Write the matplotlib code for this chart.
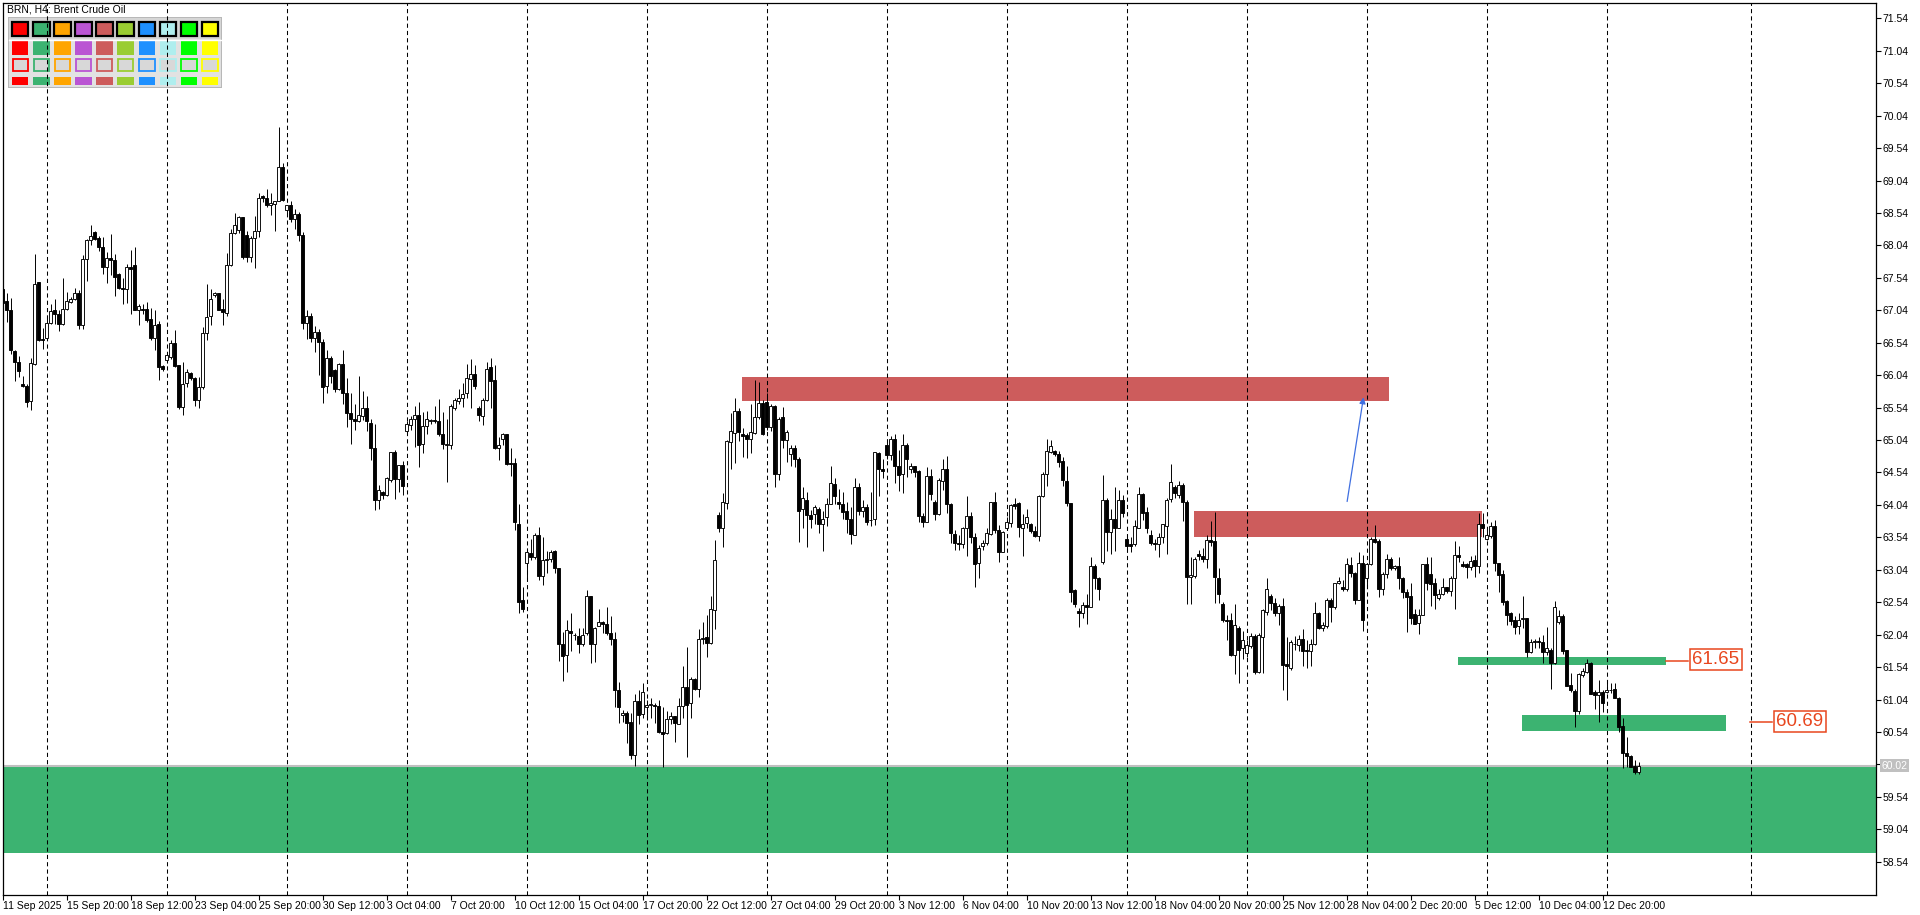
import matplotlib
matplotlib.use("Agg")
import matplotlib.pyplot as plt
from matplotlib.patches import Rectangle
import matplotlib.transforms as mtransforms
import numpy as np

plt.rcParams['font.family'] = ['Liberation Sans', 'DejaVu Sans']

title = "BRN, H4: Brent Crude Oil"

# H4 candles, 11 Sep 2025 04:00 .. 16 Dec 2025
opens = [
    67.37, 67.18, 67.05, 66.41, 66.25, 65.91, 65.88, 65.64, 66.21, 67.47,
    66.60, 66.61, 66.85, 67.04, 66.99, 66.83, 67.06, 67.17, 67.22, 67.31,
    66.82, 67.83, 68.13, 68.25, 68.15, 68.02, 67.70, 67.84, 67.82, 67.60,
    67.38, 67.36, 67.71, 67.73, 67.05, 67.06, 67.06, 66.91, 66.61, 66.83,
    66.18, 66.27, 66.32, 66.54, 66.19, 65.55, 65.92, 66.08, 65.99, 65.65,
    65.86, 66.69, 66.95, 67.28, 67.30, 67.06, 67.00, 67.73, 68.23, 68.27,
    68.47, 68.20, 67.86, 68.16, 68.26, 68.80, 68.77, 68.66, 68.68, 68.72,
    69.25, 68.59, 68.66, 68.45, 68.52, 68.20, 66.85, 66.95, 66.62, 66.70,
    66.55, 65.87, 66.30, 66.12, 65.82, 66.21, 65.76, 65.45, 65.37, 65.33,
    65.41, 65.54, 65.31, 64.91, 64.11, 64.24, 64.19, 64.42, 64.85, 64.44,
    64.65, 65.18, 65.27, 65.36, 65.43, 64.98, 65.26, 65.33, 65.34, 65.33,
    65.14, 64.97, 64.96, 65.54, 65.64, 65.68, 65.76, 65.98, 66.05, 65.53,
    65.41, 65.65, 66.16, 65.97, 64.92, 65.05, 65.13, 64.68, 64.68, 63.75,
    62.58, 63.14, 63.30, 63.23, 63.57, 62.95, 63.19, 63.21, 63.33, 63.06,
    61.89, 61.72, 62.10, 62.03, 62.02, 61.90, 62.06, 62.63, 61.89, 62.18,
    62.23, 62.21, 62.07, 61.98, 61.19, 60.80, 60.84, 60.70, 60.18, 61.01,
    60.82, 60.92, 60.96, 60.96, 60.94, 60.54, 60.52, 60.74, 60.79, 60.67,
    60.94, 61.24, 60.98, 61.35, 61.21, 61.98, 62.00, 61.91, 62.42, 63.88,
    63.68, 64.07, 65.01, 65.15, 65.49, 65.14, 65.11, 65.06, 65.15, 65.39,
    65.61, 65.62, 65.24, 65.56, 64.51, 65.39, 65.04, 64.82, 64.92, 64.74,
    63.97, 64.12, 63.88, 63.90, 63.98, 63.75, 63.86, 64.06, 64.36, 64.08,
    64.06, 63.95, 63.83, 63.57, 64.31, 63.95, 64.00, 63.80, 63.82, 64.84,
    64.59, 64.96, 64.81, 65.05, 64.64, 64.51, 64.96, 64.60, 64.64, 64.57,
    63.87, 63.77, 64.48, 64.09, 63.90, 64.41, 64.60, 64.06, 63.59, 63.46,
    63.43, 63.69, 63.87, 63.55, 63.14, 63.41, 63.46, 63.59, 64.08, 63.65,
    63.32, 63.69, 63.76, 64.05, 64.07, 63.69, 63.76, 63.74, 63.64, 63.56,
    64.18, 64.52, 64.86, 64.87, 64.83, 64.71, 64.41, 64.07, 62.73, 62.40,
    62.38, 62.50, 62.46, 63.10, 62.91, 63.16, 64.11, 63.63, 63.82, 63.69,
    64.12, 63.52, 63.44, 63.44, 63.69, 64.21, 63.93, 63.57, 63.46, 63.43,
    63.54, 63.72, 64.13, 64.31, 64.20, 64.34, 64.09, 62.93, 62.94, 63.29,
    63.26, 63.20, 63.50, 63.48, 62.92, 62.51, 62.27, 62.27, 61.73, 62.15,
    61.83, 61.75, 61.86, 62.02, 61.47, 62.01, 62.39, 62.63, 62.53, 62.38,
    62.48, 61.59, 61.52, 61.89, 61.88, 61.97, 61.80, 61.79, 61.90, 62.38,
    62.15, 62.17, 62.57, 62.46, 62.83, 62.78, 62.74, 63.11, 62.99, 62.58,
    63.14, 62.92, 63.13, 63.52, 63.48, 62.74, 62.98, 63.20, 63.06, 63.10,
    62.92, 62.69, 62.63, 62.36, 62.22, 62.34, 63.13, 62.97, 62.83, 62.60,
    62.66, 62.77, 62.72, 62.92, 63.27, 63.13, 63.13, 63.09, 63.19, 63.10,
    63.75, 63.52, 63.56, 63.71, 63.15, 62.98, 62.56, 62.38, 62.26, 62.17,
    62.28, 62.29, 61.78, 61.92, 61.94, 61.92, 61.78, 61.81, 61.61, 62.23,
    62.33, 61.80, 61.26, 61.17, 60.87, 61.42, 61.47, 61.60, 61.16, 61.11,
    61.15, 61.15, 61.18, 61.20, 61.07, 60.63, 60.21, 60.17, 60.02, 59.93,
]
highs = [
    67.40, 67.31, 67.23, 66.43, 66.33, 66.02, 65.91, 66.31, 67.90, 67.48,
    66.76, 66.93, 67.13, 67.22, 67.05, 67.53, 67.32, 67.25, 67.39, 67.35,
    67.89, 68.14, 68.35, 68.26, 68.18, 68.17, 67.94, 68.21, 67.90, 67.61,
    67.53, 67.76, 67.97, 68.01, 67.14, 67.13, 67.17, 67.08, 67.05, 66.88,
    66.19, 66.38, 66.58, 66.73, 66.19, 66.24, 66.14, 66.09, 66.01, 66.01,
    66.78, 67.44, 67.36, 67.32, 67.31, 67.22, 67.93, 68.30, 68.54, 68.50,
    68.48, 68.26, 68.19, 68.50, 68.85, 68.81, 68.91, 68.85, 68.73, 69.87,
    69.31, 68.67, 68.72, 68.60, 68.55, 68.25, 67.05, 67.00, 66.80, 66.75,
    66.60, 66.42, 66.33, 66.14, 66.22, 66.42, 65.99, 65.77, 65.60, 66.02,
    65.79, 65.72, 65.37, 65.28, 64.34, 64.25, 64.47, 64.86, 64.88, 64.65,
    64.71, 65.34, 65.41, 65.56, 65.62, 65.47, 65.48, 65.37, 65.56, 65.67,
    65.47, 65.37, 65.59, 65.69, 65.82, 65.92, 66.21, 66.29, 66.19, 65.56,
    65.69, 66.25, 66.31, 66.19, 65.08, 65.15, 65.14, 64.91, 64.77, 64.05,
    62.77, 63.37, 63.52, 63.60, 63.70, 63.55, 63.33, 63.34, 63.34, 63.06,
    62.08, 62.26, 62.37, 62.07, 62.14, 62.14, 62.73, 62.63, 62.16, 62.43,
    62.25, 62.46, 62.32, 62.08, 61.31, 60.88, 60.87, 60.84, 61.13, 61.19,
    61.30, 61.04, 61.06, 60.99, 61.03, 60.93, 60.87, 60.85, 60.79, 61.07,
    61.55, 61.85, 61.39, 61.37, 62.12, 62.24, 62.34, 62.63, 63.50, 63.93,
    64.22, 65.04, 65.46, 65.68, 65.53, 65.22, 65.15, 65.59, 65.97, 65.94,
    65.65, 65.77, 65.60, 65.58, 65.40, 65.55, 65.19, 64.96, 64.96, 64.78,
    64.32, 64.24, 63.96, 64.04, 64.01, 63.95, 64.15, 64.64, 64.46, 64.29,
    64.24, 64.08, 64.00, 64.45, 64.38, 64.11, 64.06, 64.24, 64.86, 64.86,
    64.74, 65.05, 65.10, 65.14, 64.88, 65.14, 65.00, 64.68, 64.64, 64.58,
    63.91, 64.63, 64.60, 64.12, 64.45, 64.74, 64.79, 64.07, 63.65, 63.57,
    63.70, 64.17, 63.93, 63.60, 63.42, 63.50, 63.68, 64.09, 64.24, 63.73,
    63.64, 63.85, 64.06, 64.15, 64.09, 63.90, 63.97, 63.76, 63.71, 64.19,
    64.55, 65.05, 65.04, 64.89, 64.87, 64.78, 64.64, 64.07, 62.75, 62.45,
    62.55, 62.66, 63.24, 63.13, 62.93, 64.50, 64.14, 63.98, 64.31, 64.27,
    64.19, 63.55, 63.54, 63.81, 64.32, 64.22, 64.01, 63.66, 63.52, 63.60,
    63.75, 64.15, 64.67, 64.35, 64.41, 64.38, 64.11, 63.24, 63.24, 63.34,
    63.38, 63.57, 63.79, 63.93, 63.06, 62.55, 62.35, 62.37, 62.52, 62.17,
    62.10, 61.96, 62.06, 62.05, 62.06, 62.43, 62.92, 62.67, 62.60, 62.52,
    62.60, 62.01, 61.96, 62.02, 62.04, 62.12, 61.96, 61.97, 62.55, 62.39,
    62.24, 62.60, 62.60, 62.84, 62.93, 62.88, 63.22, 63.23, 63.01, 63.32,
    63.27, 63.13, 63.54, 63.73, 63.51, 63.01, 63.29, 63.23, 63.11, 63.24,
    62.93, 62.75, 62.83, 62.44, 62.44, 63.13, 63.24, 63.24, 62.91, 62.74,
    62.91, 62.78, 62.94, 63.48, 63.40, 63.18, 63.15, 63.25, 63.27, 63.91,
    63.91, 63.66, 63.78, 63.80, 63.15, 63.03, 62.58, 62.39, 62.33, 62.37,
    62.63, 62.30, 61.98, 61.98, 62.01, 62.03, 62.16, 61.83, 62.56, 62.42,
    62.36, 61.80, 61.45, 61.20, 61.45, 61.52, 61.67, 61.62, 61.19, 61.34,
    61.19, 61.30, 61.29, 61.30, 61.08, 60.75, 60.46, 60.18, 60.11, 60.07,
]
lows = [
    67.12, 66.86, 66.37, 65.95, 66.01, 65.85, 65.55, 65.51, 66.19, 66.57,
    66.45, 66.58, 66.83, 66.83, 66.72, 66.81, 67.04, 67.15, 67.20, 66.75,
    66.75, 67.49, 68.04, 68.13, 67.96, 67.60, 67.46, 67.59, 67.26, 67.37,
    67.13, 67.15, 66.98, 67.04, 66.82, 66.99, 66.86, 66.58, 66.42, 65.97,
    66.11, 66.22, 66.29, 66.16, 65.52, 65.42, 65.85, 65.96, 65.57, 65.54,
    65.82, 66.58, 66.81, 67.24, 67.04, 66.81, 66.95, 67.72, 68.21, 68.23,
    67.83, 67.78, 67.78, 67.69, 68.17, 68.71, 68.63, 68.51, 68.26, 68.72,
    68.73, 68.52, 68.40, 68.30, 68.10, 66.75, 66.60, 66.55, 66.40, 66.04,
    65.61, 65.76, 65.92, 65.78, 65.81, 65.59, 65.24, 64.98, 65.20, 65.32,
    65.35, 65.18, 64.73, 63.96, 63.97, 64.13, 64.18, 64.39, 64.13, 64.24,
    64.19, 65.11, 65.19, 64.93, 64.63, 64.84, 65.14, 65.28, 65.30, 65.10,
    64.90, 64.40, 64.90, 65.50, 65.60, 65.55, 65.68, 65.54, 65.82, 65.34,
    65.27, 65.64, 65.54, 64.90, 64.73, 64.96, 64.65, 64.49, 63.65, 62.38,
    62.39, 62.88, 63.19, 63.21, 62.88, 62.80, 62.99, 63.16, 62.99, 61.64,
    61.33, 61.47, 61.79, 61.96, 61.75, 61.86, 62.03, 61.60, 61.62, 62.17,
    62.06, 62.03, 61.88, 60.92, 60.68, 60.70, 60.37, 60.13, 60.01, 60.67,
    60.75, 60.76, 60.75, 60.68, 60.53, 60.00, 60.51, 60.66, 60.39, 60.66,
    60.75, 60.15, 60.76, 61.19, 61.08, 61.90, 61.69, 61.89, 62.12, 63.63,
    63.39, 63.98, 64.60, 64.69, 65.03, 64.78, 64.77, 64.84, 65.13, 65.36,
    65.11, 65.19, 65.18, 64.31, 64.43, 64.92, 64.70, 64.64, 64.63, 63.47,
    63.69, 63.39, 63.69, 63.75, 63.60, 63.33, 63.71, 64.05, 64.06, 63.98,
    63.83, 63.61, 63.43, 63.57, 63.88, 63.86, 63.73, 63.71, 63.73, 64.18,
    64.45, 64.74, 64.73, 64.37, 64.25, 64.23, 64.47, 64.53, 64.47, 63.78,
    63.70, 63.77, 64.11, 63.80, 63.88, 64.27, 63.91, 63.46, 63.34, 63.35,
    63.37, 63.25, 63.46, 62.77, 62.92, 63.34, 63.42, 63.57, 63.60, 63.16,
    63.32, 63.65, 63.70, 63.98, 63.54, 63.25, 63.69, 63.60, 63.55, 63.49,
    64.16, 64.33, 64.84, 64.79, 64.63, 64.33, 64.02, 62.55, 62.46, 62.16,
    62.29, 62.20, 62.46, 62.75, 62.57, 63.13, 63.33, 63.29, 63.33, 63.69,
    63.86, 63.32, 63.32, 63.40, 63.68, 63.81, 63.61, 63.42, 63.35, 63.23,
    63.46, 63.28, 64.09, 64.14, 64.14, 63.79, 62.51, 62.52, 62.91, 63.19,
    63.16, 63.07, 63.40, 62.53, 62.53, 62.24, 61.96, 61.71, 61.43, 61.30,
    61.67, 61.69, 61.84, 61.43, 61.45, 61.45, 62.34, 62.42, 62.32, 62.19,
    61.18, 61.03, 61.50, 61.80, 61.79, 61.55, 61.52, 61.56, 61.88, 62.12,
    62.10, 62.15, 62.24, 62.43, 62.82, 62.72, 62.72, 62.93, 62.52, 62.57,
    62.09, 62.78, 63.11, 63.45, 62.62, 62.65, 62.91, 63.04, 63.04, 62.75,
    62.60, 62.08, 62.20, 62.21, 62.05, 62.34, 62.73, 62.48, 62.44, 62.58,
    62.65, 62.68, 62.63, 62.43, 63.16, 63.08, 62.92, 63.04, 62.93, 62.99,
    63.55, 63.50, 63.53, 63.02, 62.69, 62.50, 62.19, 62.19, 62.05, 62.05,
    62.15, 61.69, 61.75, 61.83, 61.84, 61.61, 61.72, 61.21, 61.59, 62.21,
    61.74, 61.25, 61.16, 60.61, 60.82, 61.39, 61.45, 61.12, 60.89, 60.70,
    60.85, 61.14, 61.14, 61.06, 60.54, 59.98, 60.00, 60.00, 59.90, 59.89,
]
closes = [
    67.15, 67.05, 66.42, 66.24, 66.10, 65.87, 65.63, 66.22, 67.45, 66.58,
    66.58, 66.85, 67.03, 66.98, 66.83, 67.06, 67.19, 67.22, 67.30, 66.82,
    67.83, 68.13, 68.18, 68.14, 68.01, 67.70, 67.85, 67.82, 67.55, 67.38,
    67.36, 67.70, 67.68, 67.05, 67.10, 67.05, 66.89, 66.61, 66.82, 66.17,
    66.14, 66.35, 66.54, 66.18, 65.55, 65.91, 66.09, 65.99, 65.65, 65.86,
    66.69, 66.94, 67.22, 67.30, 67.05, 67.01, 67.74, 68.23, 68.35, 68.47,
    67.86, 67.86, 68.16, 68.26, 68.77, 68.77, 68.66, 68.69, 68.72, 69.25,
    68.74, 68.66, 68.45, 68.52, 68.20, 66.85, 66.95, 66.62, 66.70, 66.55,
    65.86, 66.30, 66.03, 65.82, 66.21, 65.76, 65.46, 65.37, 65.34, 65.42,
    65.54, 65.34, 64.92, 64.11, 64.27, 64.19, 64.45, 64.85, 64.44, 64.65,
    64.33, 65.28, 65.36, 65.43, 64.96, 65.25, 65.36, 65.34, 65.33, 65.13,
    64.98, 64.97, 65.56, 65.65, 65.68, 65.75, 66.00, 66.05, 65.87, 65.43,
    65.65, 66.14, 65.95, 64.92, 64.97, 65.14, 64.67, 64.67, 63.78, 62.55,
    62.43, 63.31, 63.23, 63.57, 62.95, 63.19, 63.19, 63.32, 63.06, 61.89,
    61.71, 62.11, 62.06, 62.03, 61.89, 62.04, 62.63, 61.89, 62.15, 62.23,
    62.21, 62.06, 61.98, 61.18, 60.92, 60.84, 60.68, 60.18, 61.01, 60.80,
    61.16, 60.96, 60.96, 60.94, 60.54, 60.51, 60.74, 60.79, 60.68, 60.94,
    61.24, 60.95, 61.35, 61.21, 61.98, 61.99, 61.91, 62.43, 63.19, 63.68,
    64.09, 65.02, 65.18, 65.49, 65.17, 65.10, 65.06, 65.17, 65.39, 65.61,
    65.14, 65.24, 65.56, 64.51, 65.37, 65.04, 65.17, 64.92, 64.74, 63.94,
    64.14, 63.88, 63.83, 64.01, 63.75, 63.83, 64.05, 64.37, 64.17, 64.06,
    63.93, 63.82, 63.59, 64.31, 63.95, 64.00, 63.78, 63.81, 64.85, 64.59,
    64.57, 64.81, 65.05, 64.64, 64.50, 64.97, 64.74, 64.64, 64.55, 63.87,
    63.77, 64.48, 64.21, 63.90, 64.43, 64.59, 64.06, 63.60, 63.45, 63.43,
    63.69, 63.87, 63.54, 63.13, 63.38, 63.46, 63.60, 64.08, 63.65, 63.32,
    63.63, 63.78, 64.04, 64.02, 63.70, 63.75, 63.86, 63.64, 63.56, 64.18,
    64.51, 64.87, 64.95, 64.82, 64.70, 64.42, 64.07, 62.70, 62.52, 62.38,
    62.50, 62.46, 63.10, 62.91, 62.75, 64.11, 63.63, 63.82, 63.69, 64.12,
    63.91, 63.41, 63.41, 63.71, 64.21, 63.92, 63.68, 63.46, 63.43, 63.54,
    63.74, 64.12, 64.40, 64.22, 64.34, 64.08, 62.93, 62.96, 63.21, 63.26,
    63.20, 63.50, 63.47, 62.93, 62.66, 62.27, 62.25, 61.73, 62.19, 61.81,
    61.96, 61.88, 62.02, 61.47, 62.04, 62.42, 62.75, 62.53, 62.38, 62.48,
    61.57, 61.55, 61.93, 61.90, 61.97, 61.79, 61.79, 61.90, 62.38, 62.15,
    62.19, 62.58, 62.46, 62.83, 62.86, 62.74, 63.13, 62.99, 62.58, 63.14,
    62.27, 63.13, 63.52, 63.47, 62.74, 62.98, 63.20, 63.06, 63.10, 62.92,
    62.69, 62.62, 62.29, 62.21, 62.34, 63.13, 62.83, 62.82, 62.65, 62.66,
    62.77, 62.72, 62.92, 63.27, 63.23, 63.10, 63.09, 63.18, 63.10, 63.75,
    63.68, 63.57, 63.71, 63.15, 62.96, 62.55, 62.34, 62.25, 62.16, 62.27,
    62.29, 61.78, 61.93, 61.94, 61.92, 61.78, 61.83, 61.61, 62.46, 62.33,
    61.79, 61.25, 61.18, 60.87, 61.44, 61.48, 61.60, 61.13, 61.11, 61.15,
    60.98, 61.19, 61.18, 61.07, 60.62, 60.21, 60.17, 60.00, 59.93, 60.02,
]

x_labels = [
    "11 Sep 2025", "15 Sep 20:00", "18 Sep 12:00", "23 Sep 04:00", "25 Sep 20:00",
    "30 Sep 12:00", "3 Oct 04:00", "7 Oct 20:00", "10 Oct 12:00", "15 Oct 04:00",
    "17 Oct 20:00", "22 Oct 12:00", "27 Oct 04:00", "29 Oct 20:00", "3 Nov 12:00",
    "6 Nov 04:00", "10 Nov 20:00", "13 Nov 12:00", "18 Nov 04:00", "20 Nov 20:00",
    "25 Nov 12:00", "28 Nov 04:00", "2 Dec 20:00", "5 Dec 12:00", "10 Dec 04:00",
    "12 Dec 20:00",
]
label_step = 16          # bars between time labels
week_bars = list(range(11, 402, 30)) + [437]   # Monday separators

# zones: (bar from, bar to, price low, price high)
red_zones = [(184.8, 346.6, 65.64, 66.01), (297.8, 369.7, 63.55, 63.94)]
green_zones = [(363.8, 415.8, 61.58, 61.70), (379.8, 430.8, 60.56, 60.80)]
demand_zone = (58.67, 60.02)
level_labels = ["61.65", "60.69"]
bid = 60.02
arrow_from = (336.0, 64.05)
arrow_to = (340.3, 65.74)

palette = ['#FF0000', '#3CB371', '#FFA500', '#BA55D3', '#CD5C5C',
           '#9ACD32', '#1E90FF', '#AFEEEE', '#00FF00', '#FFFF00']

W, H = 1920, 915
fig = plt.figure(figsize=(W / 100, H / 100), dpi=100)
fig.patch.set_facecolor('white')

top_px, bot_px, left_px, right_px = 3, 895, 2.5, 1876
ax = fig.add_axes([left_px / W, 1 - bot_px / H, (right_px - left_px) / W, (bot_px - top_px) / H])
ax.set_zorder(2)
ax.patch.set_facecolor('none')

ppu = 64.88
ax.set_xlim(-0.05, (right_px - 2.7) / 4)
ax.set_ylim(71.54 - (bot_px - 18.3) / ppu, 71.54 + (18.3 - top_px) / ppu)

# zones
ax.axhspan(demand_zone[0], demand_zone[1], color='#3CB371', lw=0, zorder=1)
for x0, x1, y0, y1 in red_zones:
    ax.add_patch(Rectangle((x0, y0), x1 - x0, y1 - y0, color='#CD5C5C', lw=0, zorder=1))
for x0, x1, y0, y1 in green_zones:
    ax.add_patch(Rectangle((x0, y0), x1 - x0, y1 - y0, color='#3CB371', lw=0, zorder=1))

# week separators
for b in week_bars:
    ax.axvline(b, color='black', lw=0.75, ls=(0, (4, 3)), zorder=2)

# bid line
ax.axhline(bid, color='#C0C0C0', lw=1.5, zorder=2)

# candles
o = np.array(opens); h = np.array(highs); l = np.array(lows); c = np.array(closes)
h = np.maximum(h, np.maximum(o, c)); l = np.minimum(l, np.minimum(o, c))
x = np.arange(len(c))
up = c >= o
ax.vlines(x, l, h, color='black', lw=0.7, zorder=3)
body = np.maximum(np.abs(c - o), 0.012)
ax.bar(x[up], body[up], bottom=o[up], width=0.72, facecolor='white',
       edgecolor='black', lw=0.65, zorder=4)
ax.bar(x[~up], body[~up], bottom=c[~up], width=0.72, facecolor='black',
       edgecolor='black', lw=0.65, zorder=4)

# arrow
ax.annotate('', xy=arrow_to, xytext=arrow_from,
            arrowprops=dict(arrowstyle='-|>', color='#3F6FE0', lw=0.9, mutation_scale=9),
            zorder=5)

# level labels with connectors
lab_col = '#E8461E'
conn = [(415.8, 421.3, 61.63), (436.8, 442.3, 60.69)]
lab_pos = [(428.3, 61.66), (449.3, 60.70)]
for (cx0, cx1, cy), (tx, ty), txt in zip(conn, lab_pos, level_labels):
    ax.plot([cx0, cx1], [cy, cy], color=lab_col, lw=1.1, zorder=5)
    ax.text(tx, ty, txt, color=lab_col, fontsize=13.5, ha='center', va='center', zorder=6,
            bbox=dict(boxstyle='square,pad=0.12', fc='white', ec=lab_col, lw=1.1))

# axes styling
for s in ax.spines.values():
    s.set_color('black'); s.set_linewidth(0.9)
yt = np.arange(58.54, 71.55, 0.5)
ax.yaxis.tick_right()
ax.set_yticks(yt)
ax.set_yticklabels([f"{v:.2f}" for v in yt], fontsize=7.5)
ax.tick_params(axis='y', direction='out', length=3.5, width=0.8, pad=1)
xt = [i * label_step for i in range(len(x_labels))]
ax.set_xticks(xt)
ax.set_xticklabels(x_labels, fontsize=7.5, ha='left')
ax.tick_params(axis='x', direction='out', length=3.5, width=0.8, pad=1)

# bid price tag on the axis
tr = mtransforms.blended_transform_factory(ax.transAxes, ax.transData)
ax.text(1.0028, bid, f"{bid:.2f}", transform=tr, fontsize=7.5, color='white',
        ha='left', va='center', zorder=6, clip_on=False,
        bbox=dict(boxstyle='square,pad=0.15', fc='#C0C0C0', ec='none'))

# title
fig.text(7 / W, 1 - 9 / H, title, fontsize=7.5, ha='left', va='center')

# colour palette widget
wx, wy, ww, wh = 8, 17, 214, 71
wax = fig.add_axes([wx / W, 1 - (wy + wh) / H, ww / W, wh / H])
wax.set_zorder(1)
wax.set_xlim(0, ww); wax.set_ylim(wh, 0); wax.axis('off')
wax.add_patch(Rectangle((0, 0), ww, wh, fc='#E2E2E2', ec='#B8B8B8', lw=1.5))
wax.add_patch(Rectangle((1, 1), ww - 2, 21, fc='#D6D6D6', ec='none'))
wax.plot([1, ww - 1], [22.5, 22.5], color='white', lw=1)
for i, col in enumerate(palette):
    sx = 4 + i * 21.1
    wax.add_patch(Rectangle((sx, 5), 16.5, 14, fc=col, ec='black', lw=1.6))
    wax.add_patch(Rectangle((sx, 24), 16.5, 14, fc=col, ec='none'))
    wax.add_patch(Rectangle((sx + 0.6, 41.6), 15.3, 12.8, fc='#D8D8D8', ec=col, lw=1.3))
    wax.add_patch(Rectangle((sx, 60), 16.5, 8, fc=col, ec='none'))

fig.savefig("out.png", dpi=100)
